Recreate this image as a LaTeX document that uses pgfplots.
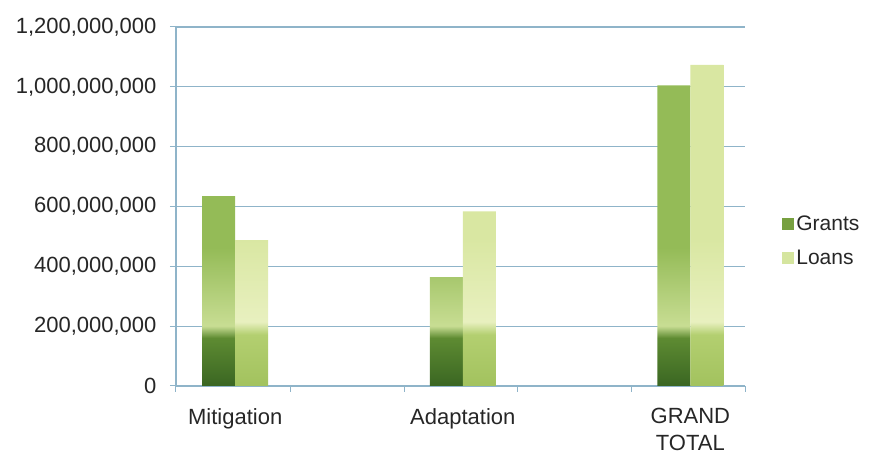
\documentclass[border=0pt]{standalone}
\usepackage{pgfplots}
\pgfplotsset{compat=1.18}
\usepackage{fontspec}
\setmainfont{Liberation Sans}
\usetikzlibrary{calc}
\definecolor{grantc}{HTML}{94BB57}
\definecolor{grantl}{HTML}{C8DD93}
\definecolor{grantm}{HTML}{5E8B32}
\definecolor{grantd}{HTML}{3A6622}
\definecolor{loanc}{HTML}{D9E7A2}
\definecolor{loanl}{HTML}{E8F0BF}
\definecolor{loanm}{HTML}{B3CF70}
\definecolor{loand}{HTML}{A2C25E}
\definecolor{legG}{HTML}{77A040}
\definecolor{legL}{HTML}{D5E59F}
\definecolor{gridc}{HTML}{8FB4C9}
\definecolor{txt}{HTML}{262626}
\pgfdeclareverticalshading{grantshade}{100bp}{color(0bp)=(grantd); color(25bp)=(grantd); color(33bp)=(grantm); color(35bp)=(grantl); color(48bp)=(grantc); color(100bp)=(grantc)}
\pgfdeclareverticalshading{loanshade}{100bp}{color(0bp)=(loand); color(25bp)=(loand); color(33bp)=(loanm); color(35bp)=(loanl); color(48bp)=(loanc); color(100bp)=(loanc)}
\begin{document}
\begin{tikzpicture}
\begin{axis}[
  name=ax,
  scale only axis,
  width=569pt, height=359pt,
  ybar=0pt, bar width=33pt,
  xmin=-0.26, xmax=2.24,
  ymin=0, ymax=1200000000,
  ytick={0,200000000,400000000,600000000,800000000,1000000000,1200000000},
  scaled y ticks=false,
  /pgf/number format/fixed,
  /pgf/number format/1000 sep={,},
  /pgf/number format/assume math mode=true,
  xtick={0,1,2},
  xticklabels={Mitigation,Adaptation,{GRAND\\TOTAL}},
  xticklabel style={align=center, text=txt, font=\fontsize{22}{27}\selectfont},
  yticklabel style={text=txt, font=\fontsize{22}{26}\selectfont},
  major x tick style={draw=none},
  minor xtick={-0.26,0.245,0.745,1.24,1.74,2.24},
  minor x tick style={draw=gridc, line width=1pt},
  minor tick length=6pt,
  tick align=outside,
  major tick length=6pt,
  ytick style={draw=gridc, line width=1pt},
  ymajorgrids,
  grid style={draw=gridc, line width=1.2pt},
  axis x line*=bottom,
  axis y line*=left,
  axis line style={draw=gridc, line width=1.2pt},
  x axis line style={-},
  y axis line style={-},
  xticklabel shift=13pt,
  yticklabel shift=10pt,
  legend style={at={(1.06,0.405)}, anchor=west, draw=none, fill=none,
    font=\fontsize{21}{25}\selectfont, text=txt, row sep=14pt,
    legend cell align=left},
  legend image code/.code={\fill[#1] (0pt,-6pt) rectangle (12pt,6pt);},
]
\addplot[draw=none, shading=grantshade, bar shift=-16.5pt, forget plot]
  coordinates {(0,635000000) (1,364000000) (2,1005000000)};
\addplot[draw=none, shading=loanshade, bar shift=16.5pt, forget plot]
  coordinates {(0,488000000) (1,584000000) (2,1073000000)};
\addlegendimage{fill=legG, draw=none}
\addlegendentry{Grants}
\addlegendimage{fill=legL, draw=none}
\addlegendentry{Loans}
\end{axis}
\pgfresetboundingbox
\path ($(ax.south west)+(-176pt,-71pt)$) rectangle ($(ax.north east)+(124pt,27pt)$);
\end{tikzpicture}
\end{document}
